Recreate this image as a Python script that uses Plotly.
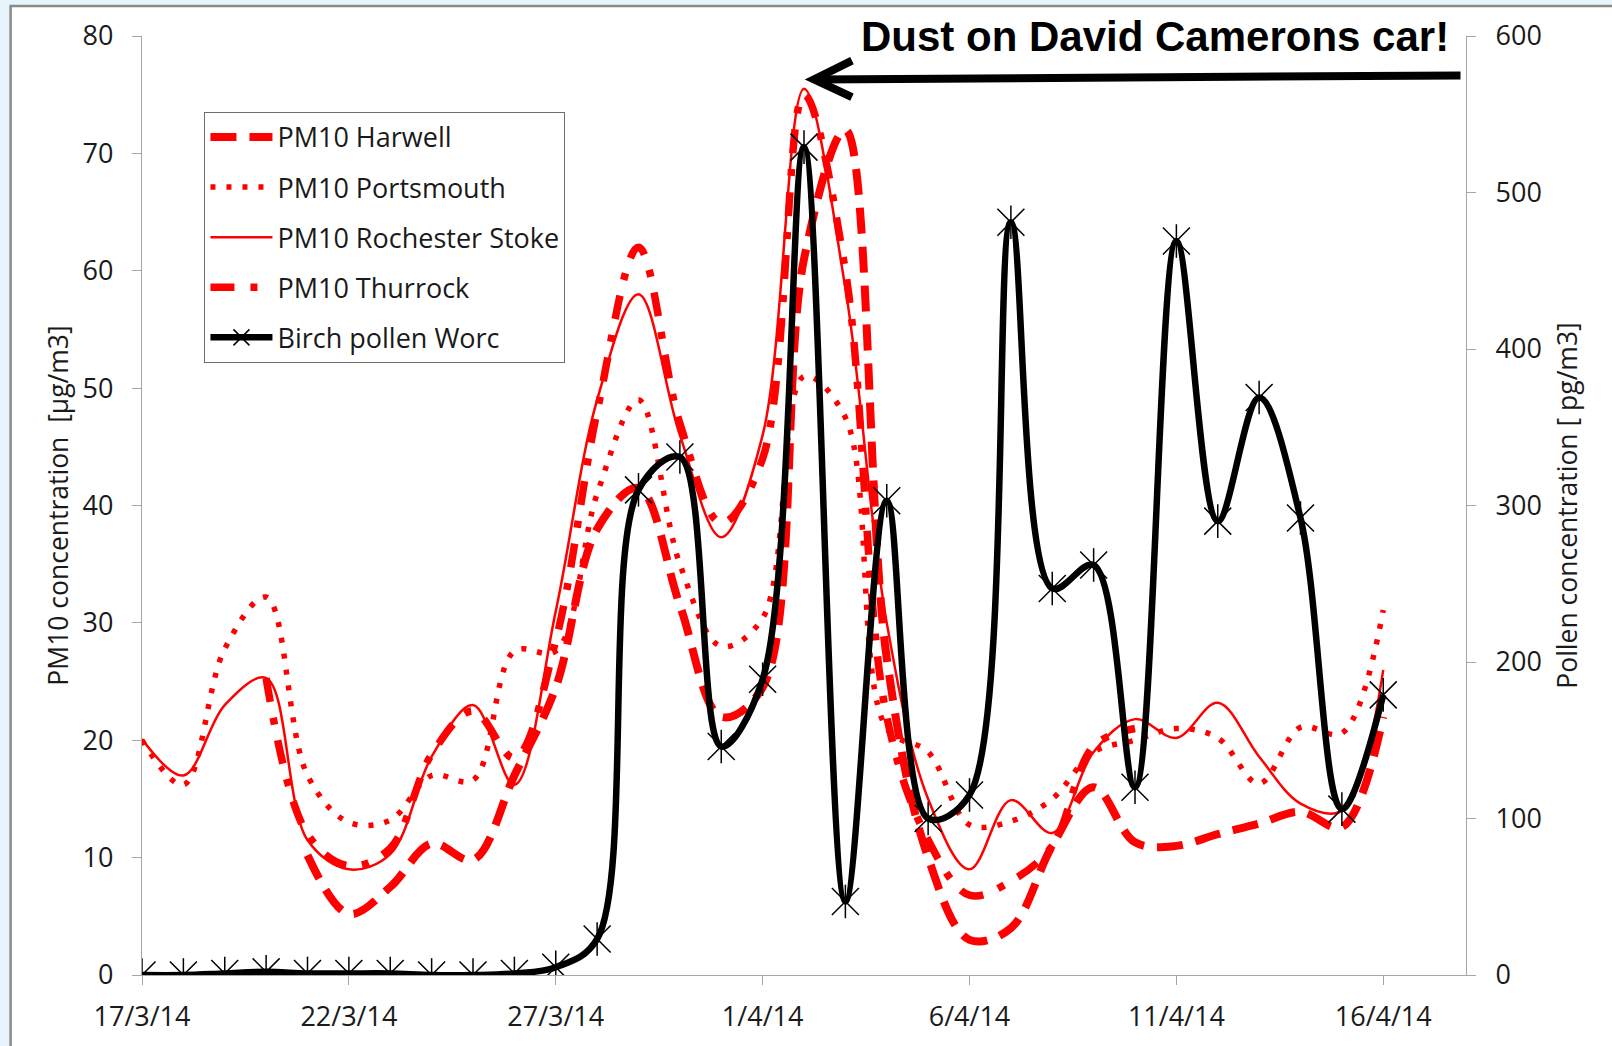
import plotly.graph_objects as go
import pandas as pd

# ---------------- data ----------------
dates = pd.date_range("2014-03-17", "2014-04-16", freq="D").strftime("%Y-%m-%d").tolist()

harwell = [None, None, None, None, 10.2, 5.2, 7.5, 11.2, 9.8, 17.0,
           24.5, 38.0, 41.5, 31.5, 22.0, 24.5, 61.0, 72.0, 27.0, 10.0,
           3.0, 4.0, 11.0, 16.0, 11.3, 11.0, 12.0, 12.9, 13.9, 12.6, 22.0]
portsmouth = [20.0, 16.2, 27.8, 32.2, 17.0, 13.0, 13.2, 17.0, 16.6, 27.6,
              27.6, 41.0, 49.0, 35.0, 28.0, 30.4, 51.0, 47.5, 21.0, 19.0,
              12.8, 13.1, 15.0, 19.0, 20.0, 21.0, 20.2, 16.3, 21.1, 20.6, 31.1]
rochester = [20.1, 17.0, 23.0, 25.3, 11.5, 9.0, 10.3, 18.6, 23.0, 16.2,
             31.0, 49.0, 58.0, 46.0, 37.3, 46.0, 75.5, 58.5, 30.0, 15.0,
             9.0, 14.9, 12.1, 19.0, 21.8, 20.2, 23.2, 18.6, 14.6, 14.0, 26.0]
thurrock = [None, None, None, 25.3, 12.0, 9.3, 10.8, 18.8, 22.5, 18.5,
            28.5, 48.0, 62.0, 47.0, 38.5, 44.0, 75.0, 60.0, 22.0, 11.5,
            6.8, 8.0, 11.0, 19.5, 21.0, None, None, None, None, None, None]
pollen = [0, 0, 1, 2, 1, 1, 1, 0, 0, 1,
          5, 23, 310, 331, 146, 189, 529, 47, 303, 100,
          115, 481, 247, 262, 120, 469, 290, 369, 292, 106, 179]

tick_dates = ["2014-03-17", "2014-03-22", "2014-03-27", "2014-04-01",
              "2014-04-06", "2014-04-11", "2014-04-16"]
tick_labels = ["17/3/14", "22/3/14", "27/3/14", "1/4/14", "6/4/14", "11/4/14", "16/4/14"]

series_names = ["PM10 Harwell", "PM10 Portsmouth", "PM10 Rochester Stoke",
                "PM10 Thurrock", "Birch pollen Worc"]
left_title = "PM10 concentration  [µg/m3]"
right_title = "Pollen concentration [ pg/m3]"
note_text = "Dust on David Camerons car!"

RED = "#ff0000"
AXIS = "#a6a6a6"
FONT = "Open Sans"
TXT = "#1a1a1a"

fig = go.Figure()

fig.add_trace(go.Scatter(x=dates, y=harwell, name=series_names[0], mode="lines",
                         line=dict(color=RED, width=8, dash="26px,13px", shape="spline"),
                         legendgroup="a"))
fig.add_trace(go.Scatter(x=dates, y=portsmouth, name=series_names[1], mode="lines",
                         line=dict(color=RED, width=5.5, dash="5px,11px", shape="spline"),
                         legendgroup="b"))
fig.add_trace(go.Scatter(x=dates, y=rochester, name=series_names[2], mode="lines",
                         line=dict(color=RED, width=2.5, shape="spline"),
                         legendgroup="c"))
fig.add_trace(go.Scatter(x=dates, y=thurrock, name=series_names[3], mode="lines",
                         line=dict(color=RED, width=7.5, dash="24px,16px,7px,16px", shape="spline"),
                         legendgroup="d"))
fig.add_trace(go.Scatter(x=dates, y=pollen, name=series_names[4], mode="lines+markers",
                         yaxis="y2",
                         line=dict(color="black", width=6.5, shape="spline"),
                         marker=dict(symbol="x-thin-open", size=27, color="black",
                                     line=dict(color="black", width=1.5)),
                         legendgroup="e"))
fig.add_trace(go.Scatter(x=dates, y=pollen, mode="markers", yaxis="y2", showlegend=False,
                         hoverinfo="skip",
                         marker=dict(symbol="line-ns-open", size=24, color="black",
                                     line=dict(color="black", width=1.5)),
                         legendgroup="e"))

# plot area in pixels
L, R, T, B = 141.5, 1466.5, 36.0, 988.5
W, H = 1612, 1046


def px(xp):
    return (xp - L) / (R - L)


def py(yp):
    return (B - yp) / (B - T)


shapes = [
    # white chart panel with grey frame
    dict(type="rect", xref="paper", yref="paper", x0=px(10), x1=px(1640), y0=py(1100), y1=py(5.5),
         fillcolor="white", line=dict(color="#8a8a8a", width=2.5), layer="below"),
    # arrow shaft
    dict(type="line", xref="paper", yref="paper", x0=px(1461), y0=py(76), x1=px(818), y1=py(80),
         line=dict(color="black", width=8)),
    # arrow head (open chevron)
    dict(type="path", xref="paper", yref="paper",
         path=f"M {px(852)},{py(61)} L {px(814)},{py(80)} L {px(852)},{py(98)}",
         line=dict(color="black", width=8)),
]

fig.update_layout(
    width=W, height=H, autosize=False,
    margin=dict(l=L, r=W - R, t=T, b=H - B, pad=0),
    paper_bgcolor="#e8f4fc",
    plot_bgcolor="rgba(0,0,0,0)",
    font=dict(family=FONT, size=25, color=TXT),
    shapes=shapes,
    showlegend=True,
    legend=dict(x=px(204), y=py(113), xanchor="left", yanchor="top",
                bgcolor="white", bordercolor="#6e6e6e", borderwidth=1,
                font=dict(family=FONT, size=27, color=TXT),
                itemwidth=62, tracegroupgap=12, traceorder="grouped"),
    xaxis=dict(type="date", range=["2014-03-17", "2014-04-18"],
               tickvals=tick_dates, ticktext=tick_labels,
               ticks="outside", ticklen=9, tickcolor=AXIS, tickwidth=1.3,
               ticklabelstandoff=8,
               showline=True, linecolor=AXIS, linewidth=1.3,
               showgrid=False, zeroline=False,
               tickfont=dict(family=FONT, size=27, color=TXT)),
    yaxis=dict(range=[0, 80], dtick=10, ticks="outside", ticklen=9, tickcolor=AXIS, tickwidth=1.3,
               ticklabelstandoff=13,
               showline=True, linecolor=AXIS, linewidth=1.3, showgrid=False, zeroline=False,
               tickfont=dict(family=FONT, size=27, color=TXT),
               title=dict(text=left_title, font=dict(family=FONT, size=26.5, color=TXT),
                          standoff=6)),
    yaxis2=dict(range=[0, 600], dtick=100, overlaying="y", side="right",
                ticks="outside", ticklen=9, tickcolor=AXIS, tickwidth=1.3,
                ticklabelstandoff=14,
                showline=True, linecolor=AXIS, linewidth=1.3, showgrid=False, zeroline=False,
                tickfont=dict(family=FONT, size=27, color=TXT),
                title=dict(text=right_title, font=dict(family=FONT, size=26.5, color=TXT),
                           standoff=17)),
    annotations=[
        dict(text=note_text, xref="paper", yref="paper", x=px(1155), y=py(37),
             xanchor="center", yanchor="middle", showarrow=False,
             font=dict(family="Liberation Sans", size=42, color="black", weight="bold")),
    ],
)

fig.write_html("out.html",
               config={"displayModeBar": False},
               post_script="document.body.style.margin='0';document.body.style.padding='0';"
                           "document.body.style.overflow='hidden';")
